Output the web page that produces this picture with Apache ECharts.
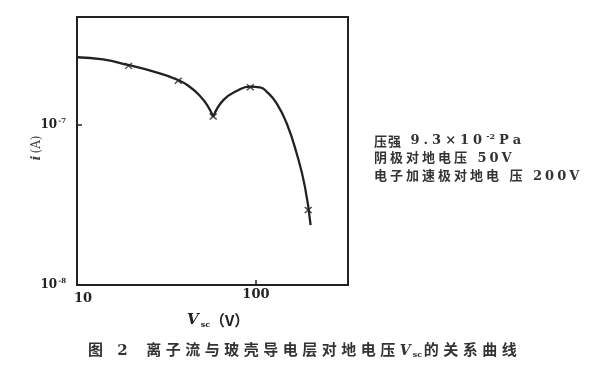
<!DOCTYPE html>
<html><head><meta charset="utf-8">
<script src="https://cdn.jsdelivr.net/npm/echarts@6/dist/echarts.min.js"></script>
<style>html,body{margin:0;padding:0;background:#fff}#c{width:610px;height:371px}</style>
</head><body><div id="c"></div>
<script>
// Curve (log-log), split at the cusp
const curveX1 = [10, 14.0, 19.3, 26.6, 36.7, 42.8, 48.7, 53.3, 57.7];
const curveY1 = [2.65e-7, 2.567e-7, 2.371e-7, 2.16e-7, 1.911e-7, 1.728e-7, 1.518e-7, 1.334e-7, 1.127e-7];
const curveX2 = [57.7, 65.7, 78.0, 92.6, 105.3, 114.8, 130.5, 148.5, 168.8, 187.8, 202.1];
const curveY2 = [1.127e-7, 1.43e-7, 1.63e-7, 1.735e-7, 1.72e-7, 1.615e-7, 1.366e-7, 1.025e-7, 6.66e-8, 4.12e-8, 2.37e-8];
// Measured points (x marks)
const markX = [19.4, 36.8, 57.7, 93, 196];
const markY = [2.34e-7, 1.89e-7, 1.13e-7, 1.72e-7, 2.94e-8];
// Tick labels
const xTickValues = [10, 100];
const xTickLabels = ['10', '100'];
const yTickValues = [1e-8, 1e-7];
const yTickExps = ['-8', '-7'];
// Texts
const yTitle = ['i', '(A)'];
const xTitle = ['V', 'sc', '（V）'];
const noteLine1 = ['压强', ' 9.3×10', '-2', 'Pa'];
const noteLine2 = '阴极对地电压 50V';
const noteLine3 = '电子加速极对地电 压 200V';
const captionFig = '图 2';
const captionA = '离子流与玻壳导电层对地电压';
const captionV = ['V', 'sc'];
const captionB = '的关系曲线';

const INK = '#222';
const SERIF = '"DejaVu Serif", "Liberation Serif", "Noto Sans CJK SC", serif';
const CJK = '"Noto Sans CJK SC", sans-serif';

function spaced(str, style) {
  return str.split('').map(ch => '{' + style + '|' + ch + '}').join('');
}
function near(a, b) { return Math.abs(Math.log10(a) - Math.log10(b)) < 1e-4; }

const chart = echarts.init(document.getElementById('c'), null, {renderer: 'canvas'});
const option = {
  animation: false,
  backgroundColor: '#fff',
  grid: {left: 77, right: 262, top: 17, bottom: 86, show: true, borderColor: INK, borderWidth: 2, outerBoundsMode: 'none'},
  xAxis: {
    type: 'log', logBase: 10, min: 10, max: 327,
    axisLine: {show: true, lineStyle: {color: INK, width: 2}},
    axisTick: {show: true, inside: true, length: 5, lineStyle: {color: INK, width: 1.5}},
    splitLine: {show: false},
    axisLabel: {
      margin: 3, showMaxLabel: false,
      formatter: v => {
        for (let i = 0; i < xTickValues.length; i++) {
          if (near(v, xTickValues[i])) return i === 0 ? '{l|' + xTickLabels[i] + '}' : '{n|' + xTickLabels[i] + '}';
        }
        return '';
      },
      rich: {
        l: {fontFamily: SERIF, fontWeight: 'bold', fontSize: 13, color: INK, padding: [4, 0, 0, 12]},
        n: {fontFamily: SERIF, fontWeight: 'bold', fontSize: 13, color: INK}
      }
    }
  },
  yAxis: {
    type: 'log', logBase: 10, min: 1e-8, max: 4.73e-7,
    axisLine: {show: true, lineStyle: {color: INK, width: 2}},
    axisTick: {show: true, inside: true, length: 5, lineStyle: {color: INK, width: 1.5}},
    splitLine: {show: false},
    axisLabel: {
      margin: 11, showMaxLabel: false,
      formatter: v => {
        for (let i = 0; i < yTickValues.length; i++) {
          if (near(v, yTickValues[i])) return '{b|10}{s|' + yTickExps[i] + '}';
        }
        return '';
      },
      rich: {
        b: {fontFamily: SERIF, fontWeight: 'bold', fontSize: 12, color: INK},
        s: {fontFamily: SERIF, fontWeight: 'bold', fontSize: 7, color: INK, padding: [0, 0, 8, 1]}
      }
    }
  },
  series: [
    {type: 'line', data: curveX1.map((x, i) => [x, curveY1[i]]), smooth: 0.5, showSymbol: false,
     lineStyle: {color: INK, width: 2.3}},
    {type: 'line', data: curveX2.map((x, i) => [x, curveY2[i]]), smooth: 0.5, showSymbol: false,
     lineStyle: {color: INK, width: 2.3}},
    {type: 'scatter', data: markX.map((x, i) => [x, markY[i]]),
     symbol: 'path://M0,0L10,10M10,0L0,10', symbolSize: [7, 6],
     itemStyle: {color: 'rgba(0,0,0,0)', borderColor: INK, borderWidth: 1.4}}
  ],
  graphic: [
    {type: 'text', x: 37, y: 148, rotation: Math.PI / 2,
     style: {text: '{i|' + yTitle[0] + '}{n|' + yTitle[1] + '}', align: 'center', verticalAlign: 'middle',
       textAlign: 'center', textVerticalAlign: 'middle',
       rich: {i: {fontFamily: SERIF, fontStyle: 'italic', fontWeight: 'bold', fontSize: 13, fill: '#444', color: '#444', padding: [0, 2, 0, 0]},
              n: {fontFamily: SERIF, fontSize: 12, fill: '#444', color: '#444'}}}},
    {type: 'text', x: 187, y: 320,
     style: {text: '{v|' + xTitle[0] + '}{s|' + xTitle[1] + '}{n|' + xTitle[2] + '}', align: 'left', verticalAlign: 'middle',
       textAlign: 'left', textVerticalAlign: 'middle',
       rich: {v: {fontFamily: SERIF, fontStyle: 'italic', fontWeight: 'bold', fontSize: 15, fill: INK, color: INK},
              s: {fontFamily: SERIF, fontWeight: 'bold', fontSize: 8, fill: INK, color: INK, padding: [9, 0, 0, 2]},
              n: {fontFamily: CJK, fontWeight: 'bold', fontSize: 15, fill: INK, color: INK}}}},
    {type: 'text', x: 374, y: 141,
     style: {text: spaced(noteLine1[0], 'c') + spaced(noteLine1[1], 'n') + '{s|' + noteLine1[2] + '}' + spaced(noteLine1[3], 'n'),
       align: 'left', verticalAlign: 'middle', textAlign: 'left', textVerticalAlign: 'middle',
       rich: {c: {fontFamily: CJK, fontWeight: 'bold', fontSize: 13, fill: '#333', color: '#333', padding: [0, 1, 0, 0]},
              n: {fontFamily: SERIF, fontWeight: 'bold', fontSize: 13, fill: '#333', color: '#333', padding: [0, 4, 0, 0]},
              s: {fontFamily: SERIF, fontWeight: 'bold', fontSize: 8, fill: '#333', color: '#333', padding: [0, 4, 8, 0]}}}},
    {type: 'text', x: 374, y: 159,
     style: {text: spaced(noteLine2, 'c'), align: 'left', verticalAlign: 'middle', textAlign: 'left', textVerticalAlign: 'middle',
       rich: {c: {fontFamily: SERIF, fontWeight: 'bold', fontSize: 13, fill: '#333', color: '#333', padding: [0, 3, 0, 0]}}}},
    {type: 'text', x: 374, y: 177,
     style: {text: spaced(noteLine3, 'c'), align: 'left', verticalAlign: 'middle', textAlign: 'left', textVerticalAlign: 'middle',
       rich: {c: {fontFamily: SERIF, fontWeight: 'bold', fontSize: 13, fill: '#333', color: '#333', padding: [0, 3, 0, 0]}}}},
    {type: 'text', x: 88, y: 351,
     style: {text: spaced(captionFig, 'c') + '{g| }' + spaced(captionA, 'c') + '{v|' + captionV[0] + '}{s|' + captionV[1] + '}{g2| }' + spaced(captionB, 'c'),
       align: 'left', verticalAlign: 'middle', textAlign: 'left', textVerticalAlign: 'middle',
       rich: {c: {fontFamily: SERIF, fontWeight: 'bold', fontSize: 15, fill: '#333', color: '#333', padding: [0, 4.5, 0, 0]},
              g: {fontSize: 15, padding: [0, 10, 0, 0]},
              g2: {fontSize: 6},
              v: {fontFamily: SERIF, fontStyle: 'italic', fontWeight: 'bold', fontSize: 14, fill: '#333', color: '#333', padding: [0, 2, 0, 0]},
              s: {fontFamily: SERIF, fontWeight: 'bold', fontSize: 8, fill: '#333', color: '#333', padding: [7, 0, 0, 0]}}}}
  ]
};
chart.setOption(option);
</script></body></html>
